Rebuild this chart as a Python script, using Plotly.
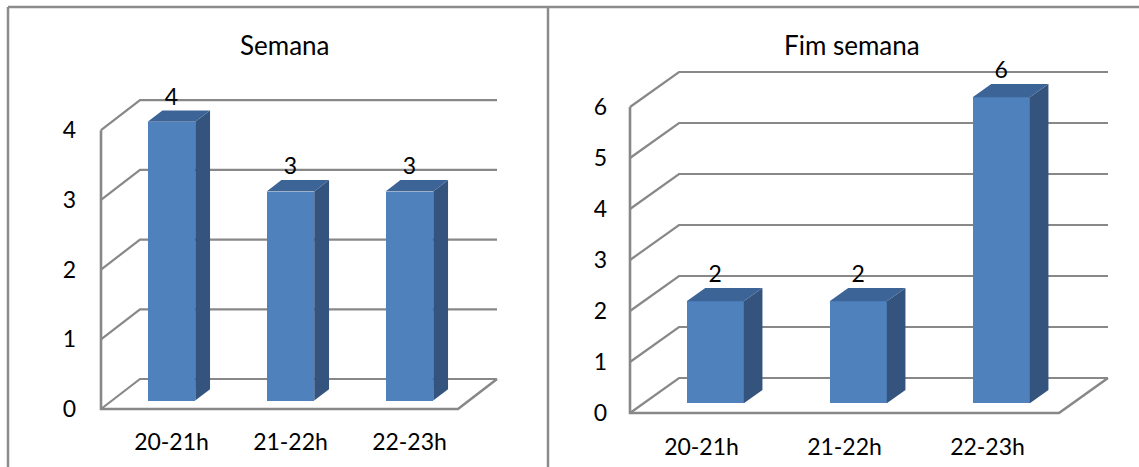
import plotly.graph_objects as go

# ---- data ----
categories = ["20-21h", "21-22h", "22-23h"]
semana = [4, 3, 3]
fim_semana = [2, 2, 6]
panel_titles = ["Semana", "Fim semana"]
ticks_semana = [0, 1, 2, 3, 4]
ticks_fim_semana = [0, 1, 2, 3, 4, 5, 6]

# ---- style ----
W, H = 1139, 467
FONT = "Lato"
FRONT = "#4F81BD"
SIDE = "#34537D"
TOP = "#3C6496"
GRID = "#888888"
BORDER = "#8C8C8C"

# oblique projection geometry of each panel (pixels)
# ox/oy: front-plane origin, cw: category width, uh: px per unit,
# dx/dy: depth offset of the back wall, lab: x-label shift
panels = [
    dict(values=semana, ticks=ticks_semana, title=panel_titles[0],
         ox=101, oy=409, cw=119, uh=69.7, dx=39, dy=30,
         left=77, right=530, top=60, bottom=426, lab=11, title_x=285),
    dict(values=fim_semana, ticks=ticks_fim_semana, title=panel_titles[1],
         ox=630, oy=413, cw=143, uh=51.0, dx=49, dy=35,
         left=608, right=1125, top=45, bottom=431, lab=0, title_x=852),
]
F0, F1 = 0.28, 0.66      # bar front / back depth fractions
BAR_W = 0.4              # bar width in category units

fig = go.Figure()
shapes = []
annotations = []

for i, p in enumerate(panels):
    xa = "x" if i == 0 else f"x{i + 1}"
    ya = "y" if i == 0 else f"y{i + 1}"
    n = len(categories)
    dxd = p["dx"] / p["cw"]
    dyd = p["dy"] / p["uh"]
    vmax = max(p["ticks"])

    # axis ranges from pixel placement
    x_lo = (p["left"] - p["ox"]) / p["cw"]
    x_hi = (p["right"] - p["ox"]) / p["cw"]
    y_lo = (p["oy"] - p["bottom"]) / p["uh"]
    y_hi = (p["oy"] - p["top"]) / p["uh"]

    # walls, floor and gridlines (below the bars)
    for v in p["ticks"]:
        path = (f"M 0,{v} L {dxd},{v + dyd} L {n + dxd},{v + dyd}")
        shapes.append(dict(type="path", path=path, xref=xa, yref=ya,
                           line=dict(color=GRID, width=2.2), layer="below"))
    shapes.append(dict(type="path",
                       path=f"M 0,{vmax} L 0,0 L {n},0 L {n + dxd},{dyd}",
                       xref=xa, yref=ya,
                       line=dict(color=GRID, width=2.6), layer="below"))

    # bars: front face
    xs = [c + 0.5 + F0 * dxd for c in range(n)]
    base = F0 * dyd
    fig.add_trace(go.Bar(
        x=xs, y=p["values"], base=[base] * n, width=BAR_W,
        marker=dict(color=FRONT, line=dict(width=0)),
        xaxis=xa, yaxis=ya, showlegend=False, hoverinfo="skip"))

    # bars: side and top faces
    bdx = (F1 - F0) * dxd
    bdy = (F1 - F0) * dyd
    for xc, v in zip(xs, p["values"]):
        xl, xr = xc - BAR_W / 2, xc + BAR_W / 2
        yt = base + v
        fig.add_trace(go.Scatter(
            x=[xr, xr, xr + bdx, xr + bdx, xr],
            y=[base, yt, yt + bdy, base + bdy, base],
            fill="toself", fillcolor=SIDE, mode="lines",
            line=dict(width=0, color=SIDE),
            xaxis=xa, yaxis=ya, showlegend=False, hoverinfo="skip"))
        fig.add_trace(go.Scatter(
            x=[xl, xr, xr + bdx, xl + bdx, xl],
            y=[yt, yt, yt + bdy, yt + bdy, yt],
            fill="toself", fillcolor=TOP, mode="lines",
            line=dict(width=0, color=TOP),
            xaxis=xa, yaxis=ya, showlegend=False, hoverinfo="skip"))

    # value labels
    fig.add_trace(go.Scatter(
        x=xs, y=[base + v + bdy for v in p["values"]],
        mode="text", text=[str(v) for v in p["values"]],
        textposition="top center",
        textfont=dict(family=FONT, size=23, color="black"),
        xaxis=xa, yaxis=ya, showlegend=False, hoverinfo="skip"))

    axis_common = dict(showgrid=False, zeroline=False, showline=False,
                       ticks="", fixedrange=True,
                       tickfont=dict(family=FONT, size=23, color="black"))
    fig.update_layout({
        ("xaxis" if i == 0 else f"xaxis{i + 1}"): dict(
            axis_common, range=[x_lo, x_hi],
            domain=[p["left"] / W, p["right"] / W],
            tickmode="array",
            tickvals=[c + 0.5 + p["lab"] / p["cw"] for c in range(n)],
            ticktext=categories, anchor=ya),
        ("yaxis" if i == 0 else f"yaxis{i + 1}"): dict(
            axis_common, range=[y_lo, y_hi],
            domain=[1 - p["bottom"] / H, 1 - p["top"] / H],
            tickmode="array", tickvals=p["ticks"],
            ticktext=[str(t) for t in p["ticks"]], anchor=xa),
    })

    annotations.append(dict(text=p["title"], x=p["title_x"] / W, y=1 - 45 / H,
                            xref="paper", yref="paper", showarrow=False,
                            xanchor="center", yanchor="middle",
                            font=dict(family=FONT, size=26, color="black")))

# panel frames
frame = dict(type="line", xref="paper", yref="paper",
             line=dict(color=BORDER, width=2.5))
shapes += [
    dict(frame, x0=8 / W, x1=8 / W, y0=0, y1=1 - 7 / H),
    dict(frame, x0=8 / W, x1=1, y0=1 - 7 / H, y1=1 - 7 / H),
    dict(frame, x0=548 / W, x1=548 / W, y0=0, y1=1 - 7 / H),
]

fig.update_layout(
    width=W, height=H, margin=dict(l=0, r=0, t=0, b=0),
    paper_bgcolor="white", plot_bgcolor="rgba(0,0,0,0)",
    bargap=0, shapes=shapes, annotations=annotations,
    font=dict(family=FONT),
)

fig.write_html("out.html")
